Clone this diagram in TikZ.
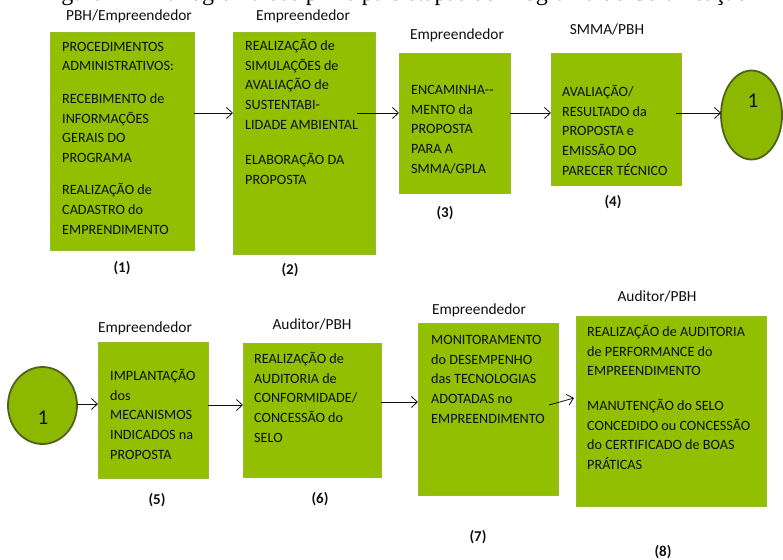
\documentclass[tikz,border=0pt]{standalone}
\usepackage{fontspec}
\setmainfont{Carlito}
\newfontfamily\capfont{Liberation Serif}
\usetikzlibrary{arrows.meta,shapes.geometric}
\definecolor{boxgreen}{RGB}{146,192,0}
\definecolor{boxedge}{RGB}{150,185,50}
\definecolor{circfill}{RGB}{140,184,0}
\definecolor{circedge}{RGB}{80,98,30}
\definecolor{txt}{RGB}{15,15,15}
\begin{document}
\begin{tikzpicture}[x=1pt,y=-1pt,
  box/.style={rectangle,draw=boxedge,line width=0.5pt,fill=boxgreen,inner sep=0pt,outer sep=0pt},
  btext/.style={anchor=north west,inner sep=0pt,align=left,text=txt,font=\fontsize{14.2}{19.6}\selectfont},
  role/.style={inner sep=0pt,text=txt,font=\fontsize{15.4}{18}\selectfont},
  num/.style={inner sep=0pt,text=txt,font=\bfseries\fontsize{15}{18}\selectfont},
  conn/.style={ellipse,draw=circedge,line width=1.8pt,fill=circfill,inner sep=0pt,outer sep=0pt},
  conntext/.style={inner sep=0pt,text=txt,font=\fontsize{21}{24}\selectfont},
  arr/.style={-{Straight Barb[length=6pt,width=11pt]},line width=0.8pt,draw=txt}]
\useasboundingbox (0,0) rectangle (783,559);
\fill[white] (0,0) rectangle (783,559);
\newcommand{\fs}{\rule{0pt}{13pt}}

% caption (cut at top)
\begin{scope}
\clip (0,0) rectangle (783,559);
\node[anchor=base east,inner sep=0pt,font=\capfont\fontsize{24}{28}\selectfont] (cap) at (748,0.8) {Figura 2 – Fluxograma das principais etapas do Programa de Certificação};
\end{scope}

% boxes
\node[box,minimum width=144pt,minimum height=218pt] (b1) at (122,141) {};
\node[box,minimum width=142pt,minimum height=222pt] (b2) at (304,143) {};
\node[box,minimum width=111pt,minimum height=140pt] (b3) at (454.5,123) {};
\node[box,minimum width=130pt,minimum height=132pt] (b4) at (616,119) {};
\node[box,minimum width=110pt,minimum height=136pt] (b5) at (153,410) {};
\node[box,minimum width=138pt,minimum height=134pt] (b6) at (312,410) {};
\node[box,minimum width=140pt,minimum height=172pt] (b7) at (488,409) {};
\node[box,minimum width=190pt,minimum height=190pt] (b8) at (671,411) {};

% connectors (circles)
\node[conn,minimum width=61pt,minimum height=89pt] (c1) at (751.5,115) {};
\node[conntext] (c1t) at (753,101) {1};
\node[conn,minimum width=69pt,minimum height=77pt] (c2) at (42.5,405.5) {};
\node[conntext] (c2t) at (43,418) {1};

% box texts
\node[btext] (t1) at (62,38) {\fs PROCEDIMENTOS\\ADMINISTRATIVOS:\\[13pt]RECEBIMENTO de\\INFORMAÇÕES\\GERAIS DO\\PROGRAMA\\[13pt]REALIZAÇÃO de\\CADASTRO do\\EMPRENDIMENTO};
\node[btext] (t2) at (245,37.5) {\fs REALIZAÇÃO de\\SIMULAÇÕES de\\AVALIAÇÃO de\\SUSTENTABI-\\LIDADE AMBIENTAL\\[16pt]ELABORAÇÃO DA\\PROPOSTA};
\node[btext] (t3) at (411,81.5) {\fs ENCAMINHA-{}-\\MENTO da\\PROPOSTA\\PARA A\\SMMA/GPLA};
\node[btext] (t4) at (562,83.5) {\fs AVALIAÇÃO/\\RESULTADO da\\PROPOSTA e\\EMISSÃO DO\\PARECER TÉCNICO};
\node[btext] (t5) at (110,367.5) {\fs IMPLANTAÇÃO\\dos\\MECANISMOS\\INDICADOS na\\PROPOSTA};
\node[btext] (t6) at (254,350.5) {\fs REALIZAÇÃO de\\AUDITORIA de\\CONFORMIDADE/\\CONCESSÃO do\\SELO};
\node[btext] (t7) at (431,331.5) {\fs MONITORAMENTO\\do DESEMPENHO\\das TECNOLOGIAS\\ADOTADAS no\\EMPREENDIMENTO};
\node[btext] (t8) at (587,323.5) {\fs REALIZAÇÃO de AUDITORIA\\de PERFORMANCE do\\EMPREENDIMENTO\\[15pt]MANUTENÇÃO do SELO\\CONCEDIDO ou CONCESSÃO\\do CERTIFICADO de BOAS\\PRÁTICAS};

% role labels
\node[role] (r1) at (129,16) {PBH/Empreendedor};
\node[role] (r2) at (303,16) {Empreendedor};
\node[role] (r3) at (457,35) {Empreendedor};
\node[role] (r4) at (607,29) {SMMA/PBH};
\node[role] (r5) at (145,328) {Empreendedor};
\node[role] (r6) at (312,324) {Auditor/PBH};
\node[role] (r7) at (479,310) {Empreendedor};
\node[role] (r8) at (657,296) {Auditor/PBH};

% step numbers
\node[num] (n1) at (122,268) {(1)};
\node[num] (n2) at (290,270) {(2)};
\node[num] (n3) at (445,213) {(3)};
\node[num] (n4) at (613,202) {(4)};
\node[num] (n5) at (157,500) {(5)};
\node[num] (n6) at (320,499) {(6)};
\node[num] (n7) at (478,537) {(7)};
\node[num] (n8) at (663,552) {(8)};

% arrows
\draw[arr] (b1.east |- 0,113) -- (b2.west |- 0,113);
\draw[arr] ([xshift=-18pt]b2.east |- 0,113) -- (b3.west |- 0,113);
\draw[arr] (b3.east |- 0,113) -- (b4.west |- 0,113);
\draw[arr] ([xshift=-5pt]b4.east |- 0,113) -- (c1.west |- 0,113);
\draw[arr] (c2.east |- 0,404) -- (b5.west |- 0,404);
\draw[arr] (b5.east |- 0,405) -- (b6.west |- 0,405);
\draw[arr] (b6.east |- 0,402) -- (b7.west |- 0,402);
\draw[arr] ([xshift=-9pt]b7.east |- 0,405) -- ([xshift=-2pt]b8.west |- 0,398);
\end{tikzpicture}
\end{document}
